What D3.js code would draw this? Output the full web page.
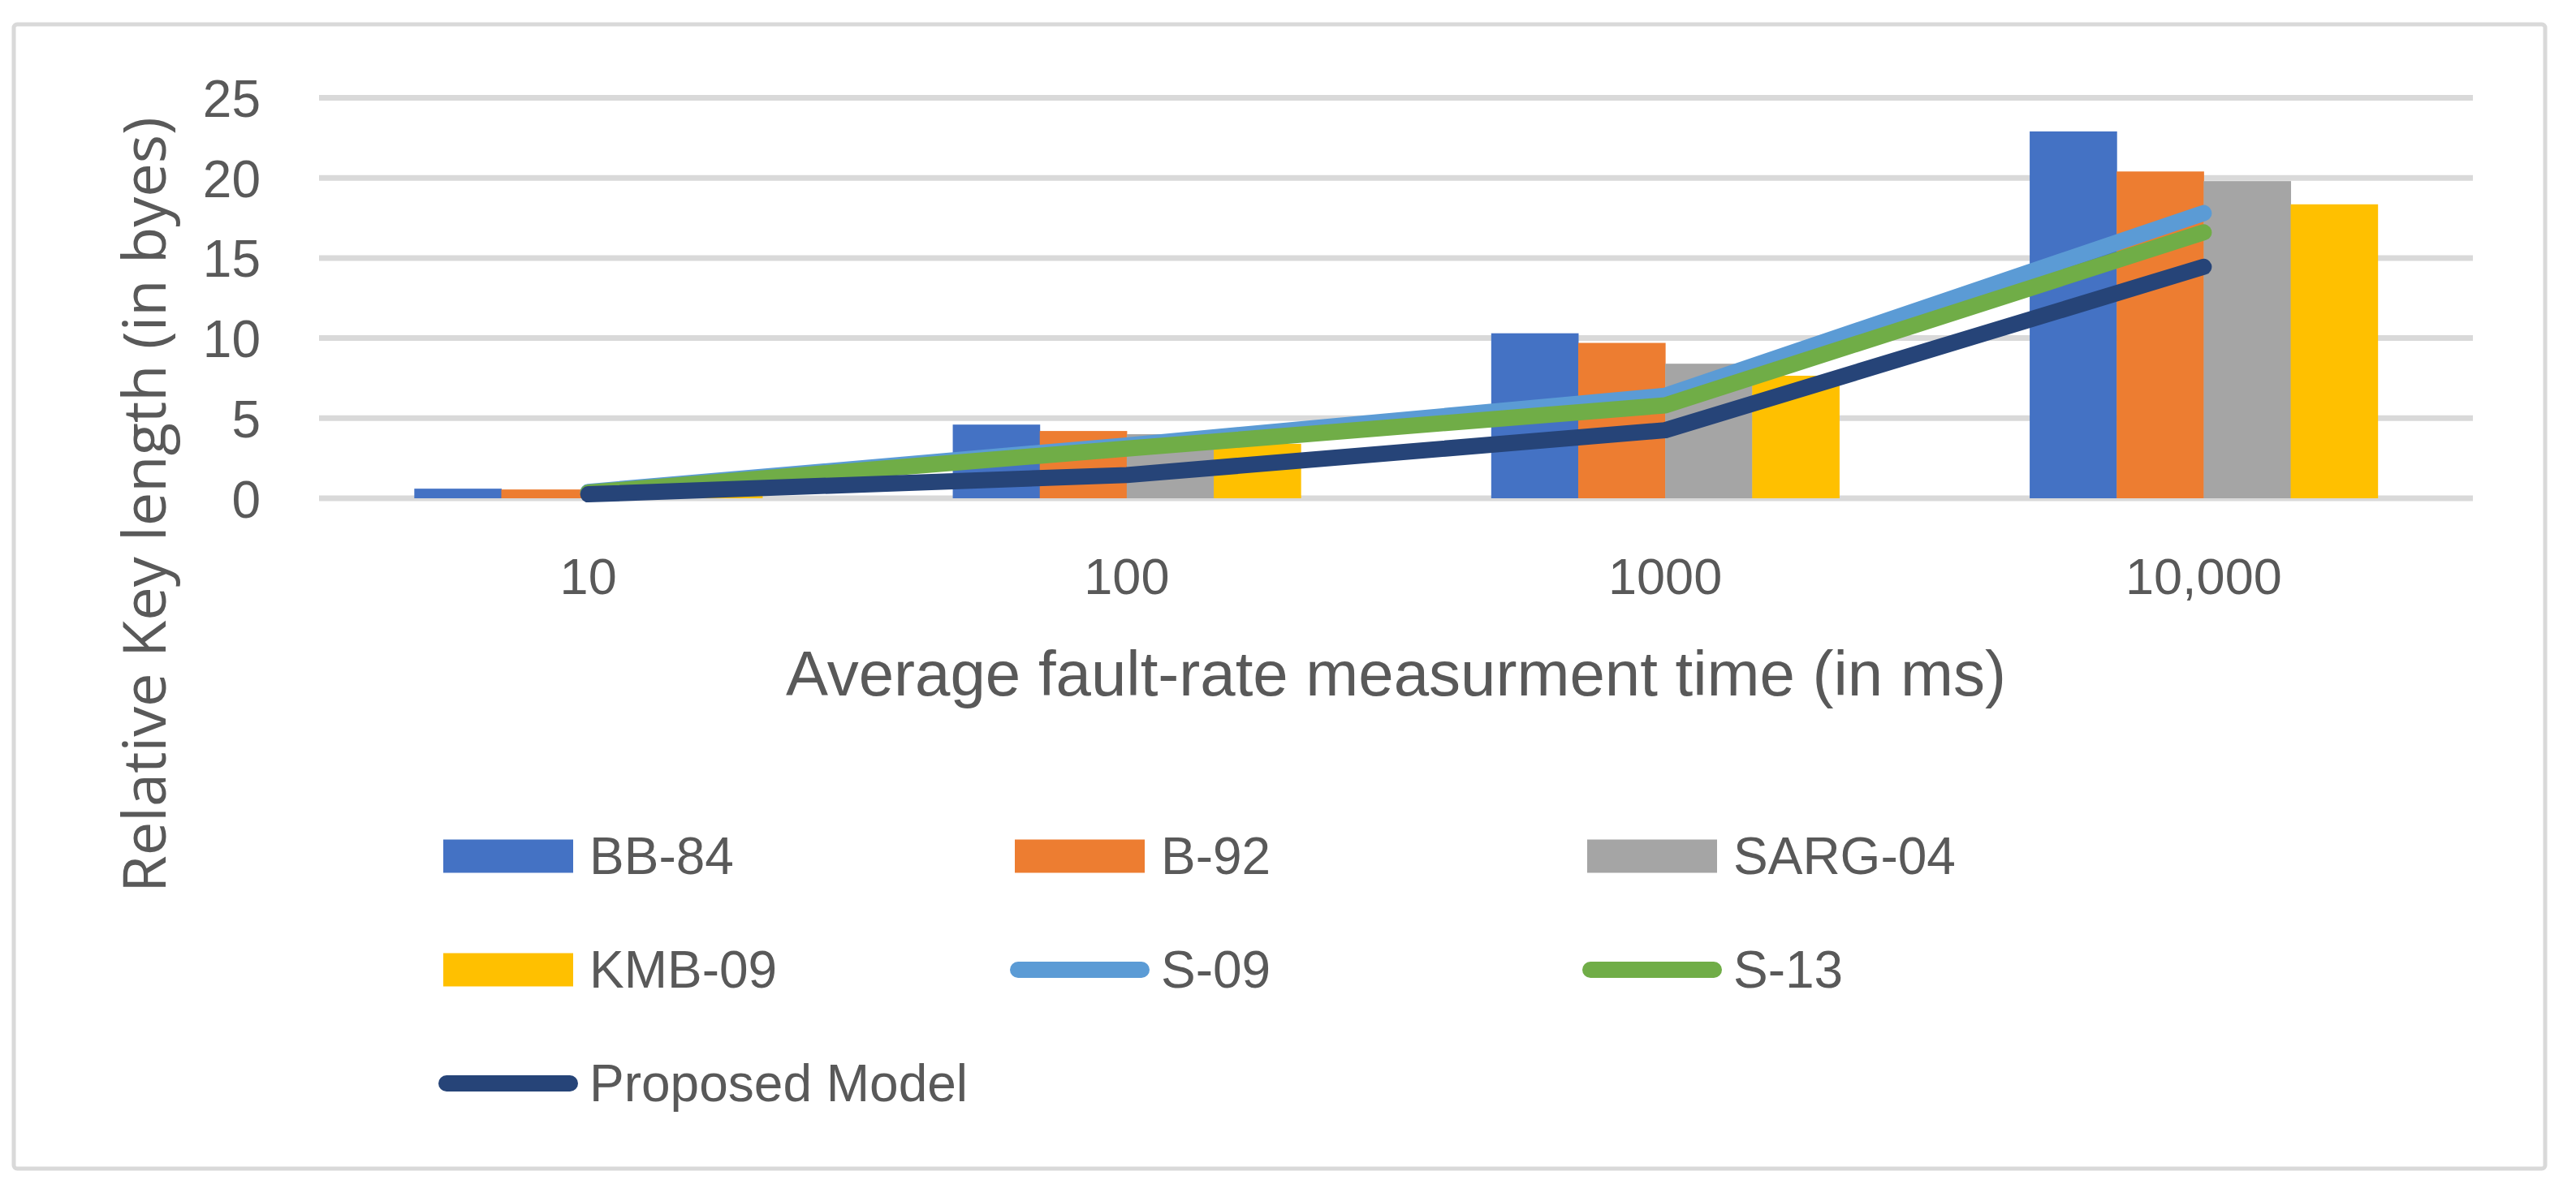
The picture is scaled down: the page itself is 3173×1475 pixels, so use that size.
<!DOCTYPE html>
<html>
<head>
<meta charset="utf-8">
<script src="https://cdn.jsdelivr.net/npm/d3@7"></script>
<style>
  body { margin: 0; background: #fff; }
  text { font-family: "Liberation Sans", Arial, sans-serif; fill: #595959; }
</style>
</head>
<body>
<div id="chart"></div>
<script>
// categories and series values
var categories = ["10", "100", "1000", "10,000"];
var barSeries = ["BB-84", "B-92", "SARG-04", "KMB-09"];
var lineSeries = ["S-09", "S-13", "Proposed Model"];
var bb84 = [0.6, 4.6, 10.3, 22.9];
var b92 = [0.55, 4.2, 9.7, 20.4];
var sarg04 = [0.5, 4.0, 8.4, 19.8];
var kmb09 = [0.4, 3.4, 7.65, 18.35];
var s09 = [0.4, 3.3, 6.4, 17.8];
var s13 = [0.35, 3.1, 5.8, 16.6];
var proposed = [0.25, 1.45, 4.25, 14.45];
var yTicks = [0, 5, 10, 15, 20, 25];

var barValues = [bb84, b92, sarg04, kmb09];
var lineValues = [s09, s13, proposed];
var barColors = ["#4472c4", "#ed7d31", "#a5a5a5", "#ffc000"];
var lineColors = ["#5b9bd5", "#70ad47", "#264478"];

var svgWidth = 3173;
var svgHeight = 1475;

var plot = { left: 393, right: 3046, top: 120.5, bottom: 614 };

var svg = d3.select("#chart")
  .append("svg")
  .attr("width", svgWidth)
  .attr("height", svgHeight);

svg.append("rect")
  .attr("width", svgWidth)
  .attr("height", svgHeight)
  .attr("fill", "#fff");

// chart frame
svg.append("rect")
  .attr("x", 17)
  .attr("y", 30)
  .attr("width", 3118)
  .attr("height", 1410)
  .attr("rx", 4)
  .attr("fill", "#fff")
  .attr("stroke", "#d9d9d9")
  .attr("stroke-width", 5);

// scales
var x0 = d3.scaleBand()
  .domain(categories)
  .range([plot.left, plot.right]);

var x1 = d3.scaleBand()
  .domain(barSeries)
  .range([0, x0.bandwidth()])
  .paddingOuter(1.095);

var y = d3.scaleLinear()
  .domain([0, 25])
  .range([plot.bottom, plot.top]);

// gridlines
svg.append("g")
  .selectAll("line")
  .data(yTicks)
  .enter()
  .append("line")
  .attr("x1", plot.left)
  .attr("x2", plot.right)
  .attr("y1", d => y(d))
  .attr("y2", d => y(d))
  .attr("stroke", "#d9d9d9")
  .attr("stroke-width", 7);

// y axis labels
var leftAxis = d3.axisLeft(y).tickValues(yTicks).tickSize(0).tickPadding(72);
var yAxis = svg.append("g")
  .attr("transform", `translate(${plot.left}, 0)`)
  .call(leftAxis);
yAxis.select(".domain").remove();
yAxis.selectAll("text")
  .attr("font-size", "64px")
  .attr("font-family", null)
  .attr("dy", "0.36em");

// x axis labels
var bottomAxis = d3.axisBottom(x0).tickSize(0).tickPadding(0);
var xAxis = svg.append("g")
  .attr("transform", `translate(0, ${plot.bottom})`)
  .call(bottomAxis);
xAxis.select(".domain").remove();
xAxis.selectAll("text")
  .attr("font-size", "63px")
  .attr("font-family", null)
  .attr("dy", null)
  .attr("y", 118);

// bars
var groups = svg.append("g")
  .selectAll("g")
  .data(barValues)
  .enter()
  .append("g")
  .attr("fill", (d, i) => barColors[i]);

groups.selectAll("rect")
  .data((d, i) => d.map((v, j) => ({ series: barSeries[i], cat: categories[j], value: v })))
  .enter()
  .append("rect")
  .attr("x", d => x0(d.cat) + x1(d.series))
  .attr("width", x1.bandwidth() + 0.5)
  .attr("y", d => y(d.value))
  .attr("height", d => y(0) - y(d.value));

// lines
var line = d3.line()
  .x((d, i) => x0(categories[i]) + x0.bandwidth() / 2)
  .y(d => y(d));

svg.append("g")
  .selectAll("path")
  .data(lineValues)
  .enter()
  .append("path")
  .attr("d", d => line(d))
  .attr("fill", "none")
  .attr("stroke", (d, i) => lineColors[i])
  .attr("stroke-width", 20)
  .attr("stroke-linecap", "round")
  .attr("stroke-linejoin", "round");

// axis titles
svg.append("text")
  .attr("x", (plot.left + plot.right) / 2)
  .attr("y", 857)
  .attr("text-anchor", "middle")
  .attr("font-size", "78px")
  .text("Average fault-rate measurment time (in ms)");

svg.append("text")
  .attr("transform", "translate(204, 622) rotate(-90)")
  .attr("text-anchor", "middle")
  .attr("font-size", "74px")
  .style("font-family", "'Open Sans', sans-serif")
  .text("Relative Key length (in byes)");

// legend
var legendItems = barSeries.concat(lineSeries);
var legendCols = [546, 1250, 1955];
var legendRows = [1055, 1195, 1335];

var legend = svg.append("g")
  .selectAll("g")
  .data(legendItems)
  .enter()
  .append("g")
  .attr("transform", (d, i) => `translate(${legendCols[i % 3]}, ${legendRows[Math.floor(i / 3)]})`);

legend.filter((d, i) => i < 4)
  .append("rect")
  .attr("x", 0)
  .attr("y", -20.5)
  .attr("width", 160)
  .attr("height", 41)
  .attr("fill", (d, i) => barColors[i]);

legend.filter((d, i) => i >= 4)
  .append("line")
  .attr("x1", 4)
  .attr("x2", 156)
  .attr("stroke", (d, i) => lineColors[i])
  .attr("stroke-width", 20)
  .attr("stroke-linecap", "round");

legend.append("text")
  .attr("x", 180)
  .attr("y", 22)
  .attr("font-size", "64px")
  .text(d => d);
</script>
</body>
</html>
